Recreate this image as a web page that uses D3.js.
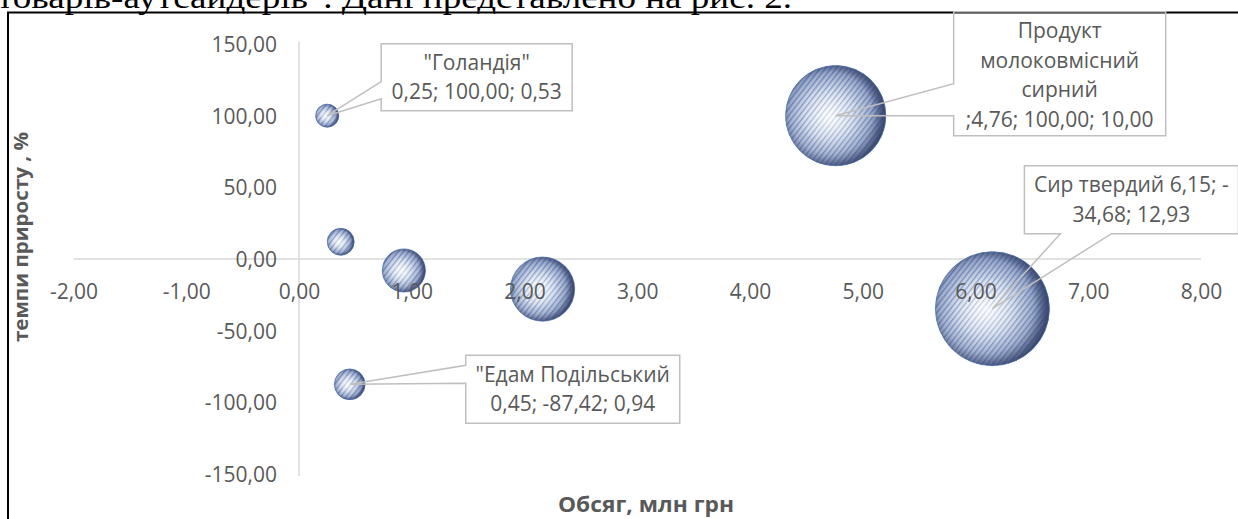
<!DOCTYPE html>
<html>
<head>
<meta charset="utf-8">
<script src="https://cdn.jsdelivr.net/npm/d3@7/dist/d3.min.js"></script>
<style>
  html, body { margin: 0; padding: 0; background: #fff; }
  svg { display: block; }
</style>
</head>
<body>
<svg id="chart" width="1238" height="519"></svg>
<script>
// ---- data ----
const xValues = [0.25, 0.37, 0.93, 2.16, 4.76, 6.15, 0.45];
const yValues = [100.00, 12.0, -8.0, -21.0, 100.00, -34.68, -87.42];
const sizes   = [0.53, 0.72, 1.85, 4.10, 10.00, 12.93, 0.94];
const labelLines = [
  ['"Голандія"', '0,25; 100,00; 0,53'],
  null, null, null,
  ['Продукт', 'молоковмісний', 'сирний', ';4,76; 100,00; 10,00'],
  ['Сир твердий 6,15; -', '34,68; 12,93'],
  ['"Едам Подільський', '0,45; -87,42; 0,94']
];
const xTicks = [-2, -1, 0, 1, 2, 3, 4, 5, 6, 7, 8];
const yTicks = [-150, -100, -50, 0, 50, 100, 150];
const xTitle = 'Обсяг, млн грн';
const yTitle = 'темпи приросту , %';
const headText = 'товарів-аутсайдерів". Дані представлено на рис. 2.';

// ---- layout (callout boxes relative to their point) ----
const calloutLayout = {
  0: {dx: 54, dy: -72, w: 191, h: 67, side: 'left', b1: 38, b2: 55},
  4: {dx: 118, dy: -104, w: 212, h: 124, side: 'left', b1: 72, b2: 104},
  5: {dx: 32, dy: -143, w: 214, h: 68, side: 'bottom', b1: 36, b2: 87},
  6: {dx: 116, dy: -29, w: 214, h: 68, side: 'left', b1: 10, b2: 28}
};

const W = 1238, H = 519;
const svg = d3.select('#chart');
const FONT = '"Open Sans", "Noto Sans", sans-serif';
const GREY = '#595959';

const loc = d3.formatLocale({decimal: ',', thousands: ' ', grouping: [3], currency: ['', ''], minus: '-'});
const fmt = loc.format('.2f');

const x = d3.scaleLinear().domain([-2, 8]).range([73.5, 1201]);
const y = d3.scaleLinear().domain([-150, 150]).range([474, 44]);
const r = d3.scaleSqrt().domain([0, d3.max(sizes)]).range([0, 57]);

// defs
const defs = svg.append('defs');
const base = defs.append('radialGradient').attr('id', 'base')
  .attr('cx', '45%').attr('cy', '50%').attr('r', '55%').attr('fx', '42%').attr('fy', '48%');
base.append('stop').attr('offset', '0%').attr('stop-color', '#f4f6fa');
base.append('stop').attr('offset', '45%').attr('stop-color', '#c6d0e2');
base.append('stop').attr('offset', '80%').attr('stop-color', '#8c9abb');
base.append('stop').attr('offset', '100%').attr('stop-color', '#47557d');

const pat = defs.append('pattern').attr('id', 'stripes')
  .attr('patternUnits', 'userSpaceOnUse').attr('width', 4.2).attr('height', 10)
  .attr('patternTransform', 'rotate(38)');
pat.append('rect').attr('x', 0).attr('y', 0).attr('width', 1.3).attr('height', 10).attr('fill', '#3358a6');

const hl = defs.append('radialGradient').attr('id', 'hl')
  .attr('cx', '45%').attr('cy', '52%').attr('r', '50%');
hl.append('stop').attr('offset', '0%').attr('stop-color', '#ffffff').attr('stop-opacity', 0.75);
hl.append('stop').attr('offset', '60%').attr('stop-color', '#ffffff').attr('stop-opacity', 0.2);
hl.append('stop').attr('offset', '100%').attr('stop-color', '#ffffff').attr('stop-opacity', 0);

const edge = defs.append('radialGradient').attr('id', 'edge')
  .attr('cx', '45%').attr('cy', '48%').attr('r', '58%');
edge.append('stop').attr('offset', '70%').attr('stop-color', '#222a45').attr('stop-opacity', 0);
edge.append('stop').attr('offset', '100%').attr('stop-color', '#222a45').attr('stop-opacity', 0.5);

// heading text (cut at top)
svg.append('text')
  .attr('x', -3).attr('y', 8)
  .attr('font-family', '"Liberation Serif", "Times New Roman", serif')
  .attr('font-size', 31)
  .attr('fill', '#000')
  .attr('textLength', 795).attr('lengthAdjust', 'spacingAndGlyphs')
  .text(headText);

// frame
svg.append('line').attr('x1', 7).attr('x2', W).attr('y1', 12.5).attr('y2', 12.5)
  .attr('stroke', '#000').attr('stroke-width', 2);
svg.append('line').attr('x1', 8).attr('x2', 8).attr('y1', 12).attr('y2', H)
  .attr('stroke', '#000').attr('stroke-width', 2);

// axis lines (behind bubbles)
svg.append('line').attr('x1', x(-2)).attr('x2', x(8)).attr('y1', y(0)).attr('y2', y(0))
  .attr('stroke', '#d9d9d9').attr('stroke-width', 1.5);
svg.append('line').attr('x1', x(0)).attr('x2', x(0)).attr('y1', y(150) - 2).attr('y2', y(-150) + 2)
  .attr('stroke', '#d9d9d9').attr('stroke-width', 1.5);

// bubbles
const data = xValues.map((v, i) => ({x: v, y: yValues[i], s: sizes[i], i}));
const order = data.slice().sort((a, b) => b.s - a.s);
const gb = svg.append('g').selectAll('g').data(order).join('g')
  .attr('transform', d => `translate(${x(d.x)},${y(d.y)})`);
gb.append('circle').attr('r', d => r(d.s)).attr('fill', 'url(#base)');
gb.append('circle').attr('r', d => r(d.s)).attr('fill', 'url(#stripes)').attr('opacity', 0.65);
gb.append('circle').attr('r', d => r(d.s)).attr('fill', 'url(#hl)');
gb.append('circle').attr('r', d => r(d.s)).attr('fill', 'url(#edge)')
  .attr('stroke', '#4a6db0').attr('stroke-width', 1).attr('stroke-opacity', 0.7);

// axes labels (on top of bubbles)
const gx = svg.append('g').attr('transform', `translate(0,${y(0)})`)
  .call(d3.axisBottom(x).tickValues(xTicks).tickSize(0).tickFormat(fmt));
gx.select('.domain').remove();
gx.selectAll('text').attr('y', 33).attr('dy', '0.35em')
  .attr('font-family', FONT).attr('font-size', 21).attr('fill', GREY);

const gy = svg.append('g').attr('transform', `translate(${x(0)},0)`)
  .call(d3.axisLeft(y).tickValues(yTicks).tickSize(0).tickPadding(22).tickFormat(fmt));
gy.select('.domain').remove();
gy.selectAll('text').attr('dy', '0.35em')
  .attr('font-family', FONT).attr('font-size', 21).attr('fill', GREY);

// axis titles
svg.append('text').attr('x', 646).attr('y', 505).attr('dy', '0.35em')
  .attr('text-anchor', 'middle').attr('font-family', FONT).attr('font-weight', 'bold')
  .attr('font-size', 21).attr('fill', GREY)
  .attr('textLength', 176).attr('lengthAdjust', 'spacingAndGlyphs').text(xTitle);
svg.append('text').attr('transform', `translate(21,237) rotate(-90)`).attr('dy', '0.35em')
  .attr('text-anchor', 'middle').attr('font-family', FONT).attr('font-weight', 'bold')
  .attr('font-size', 20).attr('fill', GREY)
  .attr('textLength', 210).attr('lengthAdjust', 'spacingAndGlyphs').text(yTitle);

// callouts
const lh = 29.5;
data.filter(d => labelLines[d.i]).forEach(d => {
  const L = calloutLayout[d.i];
  const px = x(d.x), py = y(d.y);
  const x0 = px + L.dx, y0 = py + L.dy, x1 = x0 + L.w, y1 = y0 + L.h;
  let p;
  if (L.side === 'left') {
    p = [[x0, y0], [x1, y0], [x1, y1], [x0, y1], [x0, y0 + L.b2], [px, py], [x0, y0 + L.b1]];
  } else {
    p = [[x0, y0], [x1, y0], [x1, y1], [x0 + L.b2, y1], [px, py], [x0 + L.b1, y1], [x0, y1]];
  }
  svg.append('path').attr('d', 'M' + p.map(q => q.join(',')).join('L') + 'Z')
    .attr('fill', 'none').attr('stroke', '#bfbfbf').attr('stroke-width', 1.5)
    .attr('stroke-linejoin', 'miter');
  const lines = labelLines[d.i];
  const cx = (x0 + x1) / 2, cy = (y0 + y1) / 2 + (lines.length > 2 ? 1.5 : 0);
  const t = svg.append('text').attr('text-anchor', 'middle')
    .attr('font-family', FONT).attr('font-size', 21).attr('fill', GREY);
  lines.forEach((s, k) => {
    t.append('tspan').attr('x', cx)
      .attr('y', cy + (k - (lines.length - 1) / 2) * lh)
      .attr('dy', '0.35em').text(s);
  });
});
</script>
</body>
</html>
